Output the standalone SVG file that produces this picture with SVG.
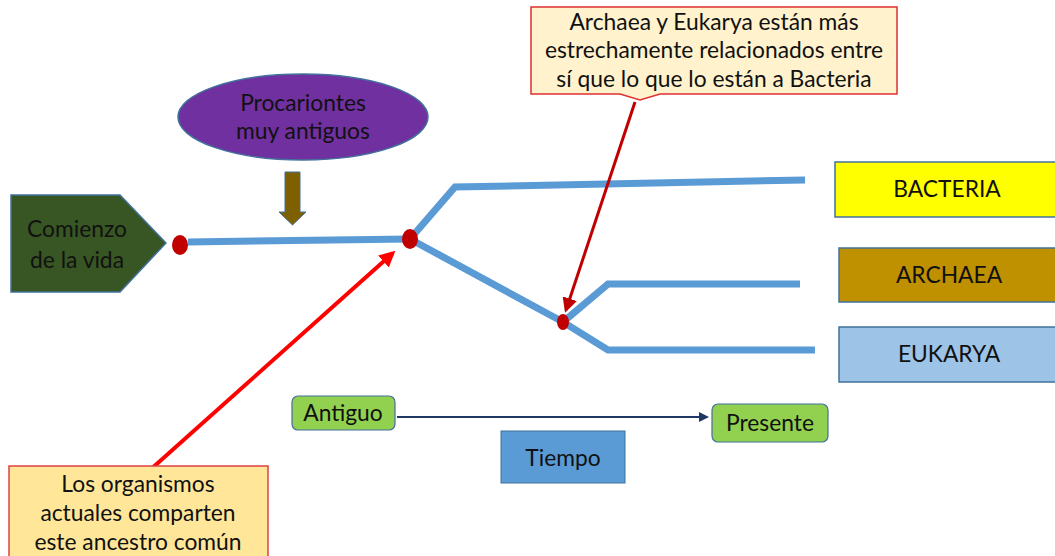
<svg xmlns="http://www.w3.org/2000/svg" width="1055" height="556" viewBox="0 0 1055 556">
<style>
text{font-family:Lato,"Liberation Sans",sans-serif;font-size:22.8px;fill:#111;text-anchor:middle}
.br{fill:none;stroke:#5b9bd5;stroke-width:7;stroke-linejoin:miter}
.box{stroke:#41719c;stroke-width:1.5}
.dot{fill:#c00000}
</style>
<defs>
<marker id="mRed" viewBox="0 0 10 10" refX="8" refY="5" markerWidth="4" markerHeight="4" orient="auto"><path d="M0,0L10,5L0,10z" fill="#ff0000"/></marker>
<marker id="mDark" viewBox="0 0 10 10" refX="8" refY="5" markerWidth="5" markerHeight="5" orient="auto"><path d="M0,0L10,5L0,10z" fill="#c00000"/></marker>
<marker id="mNavy" viewBox="0 0 10 10" refX="8" refY="5" markerWidth="5" markerHeight="5" orient="auto"><path d="M0,0L10,5L0,10z" fill="#1f3864"/></marker>
</defs>
<rect width="1055" height="556" fill="#fff"/>
<g id="connectors">
<path class="br" d="M188,242L410,239"/>
<path class="br" d="M410,239L455,187L805,180"/>
<path class="br" d="M410,239L563,322L608,350L815,350"/>
<path class="br" d="M563,322L608,284L800,284"/>
<line x1="635" y1="102" x2="566" y2="310" stroke="#c00000" stroke-width="3" marker-end="url(#mDark)"/>
<line x1="150" y1="470" x2="393" y2="253" stroke="#ff0000" stroke-width="4" marker-end="url(#mRed)"/>
<line x1="397" y1="417" x2="707" y2="417" stroke="#1f3864" stroke-width="2" marker-end="url(#mNavy)"/>
<path d="M285,172H300V212H306L292.5,225L279,212H285Z" fill="#7f6000" stroke="#41719c" stroke-width="1"/>
</g>
<g id="dots">
<ellipse class="dot" cx="180" cy="245" rx="8" ry="10"/>
<ellipse class="dot" cx="410" cy="239" rx="8" ry="10"/>
<ellipse class="dot" cx="563" cy="322" rx="6" ry="8"/>
</g>
<g id="comienzo">
<path d="M11,195H120L166,243L120,292H11Z" fill="#375623" stroke="#41719c" stroke-width="1.5"/>
<text x="77" y="237">Comienzo</text>
<text x="77" y="268">de la vida</text>
</g>
<g id="procariontes">
<ellipse cx="303" cy="117" rx="125" ry="43" fill="#7030a0" stroke="#41719c" stroke-width="1.5"/>
<text x="303" y="111">Procariontes</text>
<text x="303" y="139">muy antiguos</text>
</g>
<g id="callout-top">
<path d="M531,7H897V94H660L640,100L620,94H531Z" fill="#fff2cc" stroke="#e03030" stroke-width="1.5"/>
<text x="714" y="30">Archaea y Eukarya están más</text>
<text x="714" y="58">estrechamente relacionados entre</text>
<text x="714" y="87">sí que lo que lo están a Bacteria</text>
</g>
<g id="callout-bottom">
<rect x="9" y="466" width="259" height="100" fill="#ffe699" stroke="#e04040" stroke-width="1.5"/>
<text x="138" y="492">Los organismos</text>
<text x="138" y="521">actuales comparten</text>
<text x="138" y="550">este ancestro común</text>
</g>
<g id="bacteria">
<rect class="box" x="835" y="162" width="225" height="55" fill="#ffff00"/>
<text x="947" y="197">BACTERIA</text>
</g>
<g id="archaea">
<rect class="box" x="839" y="248" width="221" height="54" fill="#bf9000"/>
<text x="949" y="283">ARCHAEA</text>
</g>
<g id="eukarya">
<rect class="box" x="839" y="327" width="221" height="55" fill="#9dc3e6"/>
<text x="949" y="362">EUKARYA</text>
</g>
<g id="antiguo">
<rect x="292" y="396" width="103" height="34" rx="6" fill="#92d050" stroke="#41719c" stroke-width="1.2"/>
<text x="343" y="421">Antiguo</text>
</g>
<g id="presente">
<rect x="712" y="404" width="116" height="38" rx="6" fill="#92d050" stroke="#41719c" stroke-width="1.2"/>
<text x="770" y="431">Presente</text>
</g>
<g id="tiempo">
<rect x="501" y="431" width="124" height="52" fill="#5b9bd5" stroke="#41719c" stroke-width="1"/>
<text x="563" y="466">Tiempo</text>
</g>
</svg>
